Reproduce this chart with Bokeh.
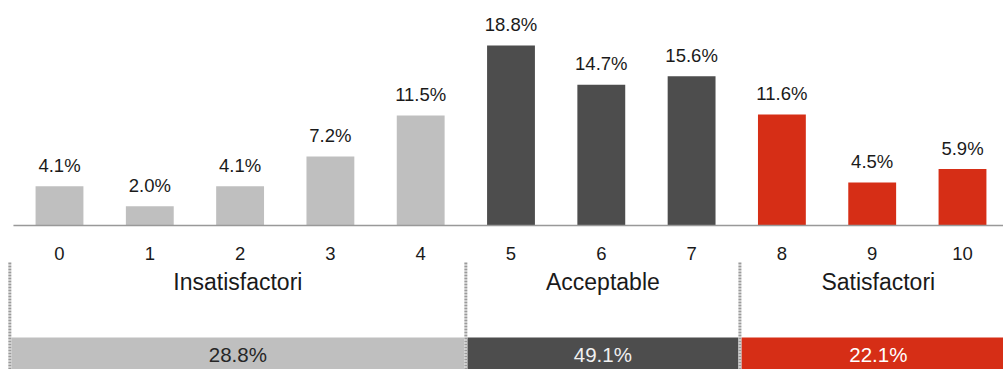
from bokeh.plotting import figure
from bokeh.models import Range1d, ColumnDataSource
from bokeh.core.properties import value
from bokeh.embed import file_html
from bokeh.resources import INLINE

# ---- data ----
scores = list(range(11))
score_labels = [str(s) for s in scores]
shares = [4.1, 2.0, 4.1, 7.2, 11.5, 18.8, 14.7, 15.6, 11.6, 4.5, 5.9]
share_labels = ["4.1%", "2.0%", "4.1%", "7.2%", "11.5%", "18.8%", "14.7%", "15.6%", "11.6%", "4.5%", "5.9%"]

group_names = ["Insatisfactori", "Acceptable", "Satisfactori"]
group_first = [0, 5, 8]
group_last = [4, 7, 10]
group_totals = [28.8, 49.1, 22.1]
group_total_labels = ["28.8%", "49.1%", "22.1%"]

# ---- styles ----
group_colors = ["#bfbfbf", "#4d4d4d", "#d62e16"]
total_text_colors = ["#262626", "#f0f0f0", "#ffffff"]
FONT = value("Liberation Sans")
FS_VAL, FS_TICK, FS_GROUP, FS_TOTAL = 18.5, 18.5, 23, 20.5

# ---- layout (page pixels) ----
W, H = 1003, 369
X0, STEP = 59.0, 90.3          # page x of score 0, spacing per score
Y0, PXPCT = 225.0, 9.57        # page y of baseline, px per percent


def yp(page_y):
    return (Y0 - page_y) / PXPCT


def base_fix(fs):
    # svg text baseline correction (px)
    return 0.38 * fs


p = figure(width=W, height=H,
           x_range=Range1d(-X0 / STEP, (W - X0) / STEP),
           y_range=Range1d(yp(H), yp(0)),
           output_backend="svg", toolbar_location=None,
           x_axis_type=None, y_axis_type=None,
           min_border=0, outline_line_color=None,
           background_fill_color="white", border_fill_color="white")
p.xgrid.visible = False
p.ygrid.visible = False

# bar colours by group
bar_colors = []
for s in scores:
    for g, (f, l) in enumerate(zip(group_first, group_last)):
        if f <= s <= l:
            bar_colors.append(group_colors[g])

src = ColumnDataSource(dict(
    x=scores, top=shares, color=bar_colors, label=share_labels,
    ly=[v + (14 + base_fix(FS_VAL)) / PXPCT for v in shares],
    ty=[yp(260 - base_fix(FS_TICK))] * len(scores), tick=score_labels,
))

p.vbar(x="x", top="top", bottom=0, width=0.53, fill_color="color",
       line_color=None, source=src)

# baseline
p.segment(x0=[scores[0] - 0.51], y0=[0], x1=[scores[-1] + 1.5], y1=[0],
          line_color="#999999", line_width=1.5)

p.text(x="x", y="ly", text="label", source=src, text_align="center",
       text_baseline="alphabetic", text_font=FONT, text_font_size=f"{FS_VAL}px",
       text_color="#1a1a1a")
p.text(x="x", y="ty", text="tick", source=src, text_align="center",
       text_baseline="alphabetic", text_font=FONT, text_font_size=f"{FS_TICK}px",
       text_color="#1a1a1a")

# group boxes
bounds = [f - 0.5 for f in group_first] + [group_last[-1] + 0.6]
bounds[0] -= 0.05
bounds[2] += 0.035
gsrc = ColumnDataSource(dict(
    left=[bounds[i] + 0.018 for i in range(3)],
    right=[bounds[i + 1] - 0.018 for i in range(3)],
    cx=[(bounds[i] + bounds[i + 1]) / 2 for i in range(3)],
    color=group_colors, tcolor=total_text_colors,
    name=group_names, total=group_total_labels,
    ny=[yp(290 - base_fix(FS_GROUP))] * 3,
    vy=[yp(362 - base_fix(FS_TOTAL))] * 3,
))
p.quad(left="left", right="right", top=yp(337), bottom=yp(390),
       fill_color="color", line_color=None, source=gsrc)

# dotted dividers
div_x = bounds[:3]
p.segment(x0=div_x, y0=[yp(262)] * 3, x1=div_x, y1=[yp(390)] * 3,
          line_color="#9a9a9a", line_width=3, line_dash="2 1")

p.text(x="cx", y="ny", text="name", source=gsrc, text_align="center",
       text_baseline="alphabetic", text_font=FONT, text_font_size=f"{FS_GROUP}px",
       text_color="#1a1a1a")
p.text(x="cx", y="vy", text="total", source=gsrc, text_align="center",
       text_baseline="alphabetic", text_font=FONT, text_font_size=f"{FS_TOTAL}px",
       text_color="tcolor")

open("out.html", "w").write(file_html(p, INLINE))
